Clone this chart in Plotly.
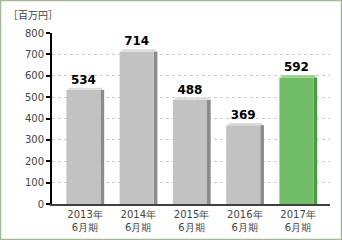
import plotly.graph_objects as go

categories = ["2013年<br>6月期", "2014年<br>6月期", "2015年<br>6月期", "2016年<br>6月期", "2017年<br>6月期"]
values = [534, 714, 488, 369, 592]
value_labels = ["<b>534</b>", "<b>714</b>", "<b>488</b>", "<b>369</b>", "<b>592</b>"]
front_colors = ["#c2c2c2", "#c2c2c2", "#c2c2c2", "#c2c2c2", "#72bd68"]
side_colors = ["#8c8c8c", "#8c8c8c", "#8c8c8c", "#8c8c8c", "#4e9a48"]
top_colors = ["#dcdcdc", "#dcdcdc", "#dcdcdc", "#dcdcdc", "#95d08a"]
y_ticks = [0, 100, 200, 300, 400, 500, 600, 700, 800]

xs = list(range(len(categories)))
FONT = "DejaVu Sans"

fig = go.Figure()
# right side face
fig.add_trace(go.Bar(
    x=xs, y=values, width=0.07, offset=0.29,
    marker=dict(color=side_colors, line=dict(width=0)),
    hoverinfo="skip", showlegend=False))
# front face
fig.add_trace(go.Bar(
    x=xs, y=values, width=0.64, offset=-0.35,
    marker=dict(color=front_colors, line=dict(width=0)),
    text=value_labels, textposition="outside",
    textfont=dict(family=FONT, size=12, color="#000000"),
    cliponaxis=False, showlegend=False))
# top face
fig.add_trace(go.Bar(
    x=xs, y=[10] * len(values), base=values, width=0.64, offset=-0.31,
    marker=dict(color=top_colors, line=dict(width=0)),
    hoverinfo="skip", showlegend=False))

fig.update_layout(
    width=342, height=240,
    margin=dict(l=52, r=12, t=33, b=36, autoexpand=False),
    paper_bgcolor="#ffffff", plot_bgcolor="#ffffff",
    barmode="overlay",
    font=dict(family=FONT, size=10, color="#444444"),
    xaxis=dict(
        range=[-0.62, 4.6], tickmode="array", tickvals=xs, ticktext=categories,
        showgrid=False, showline=True, linecolor="#404040", linewidth=2,
        ticks="", zeroline=False, automargin=False,
        tickfont=dict(family=FONT, size=10, color="#444444"),
    ),
    yaxis=dict(
        range=[0, 800], tickmode="array", tickvals=y_ticks,
        showgrid=True, gridcolor="#cccccc", griddash="dot", gridwidth=1,
        showline=True, linecolor="#000000", linewidth=2,
        ticks="outside", ticklen=4, tickcolor="#000000", tickwidth=2,
        zeroline=False, automargin=False,
        tickfont=dict(family=FONT, size=10, color="#444444"),
    ),
    annotations=[dict(
        text="［百万円］", xref="paper", yref="paper",
        x=-0.165, y=1.05, xanchor="left", yanchor="bottom", showarrow=False,
        font=dict(family="Noto Sans CJK JP", size=10, color="#444444"))],
    shapes=[dict(
        type="rect", xref="paper", yref="paper",
        x0=-51.5 / 278, x1=1 + 11.5 / 278, y0=-35.5 / 171, y1=1 + 32.5 / 171,
        line=dict(color="#a3b899", width=1.5), fillcolor="rgba(0,0,0,0)", layer="below")],
)

fig.write_html("out.html")
